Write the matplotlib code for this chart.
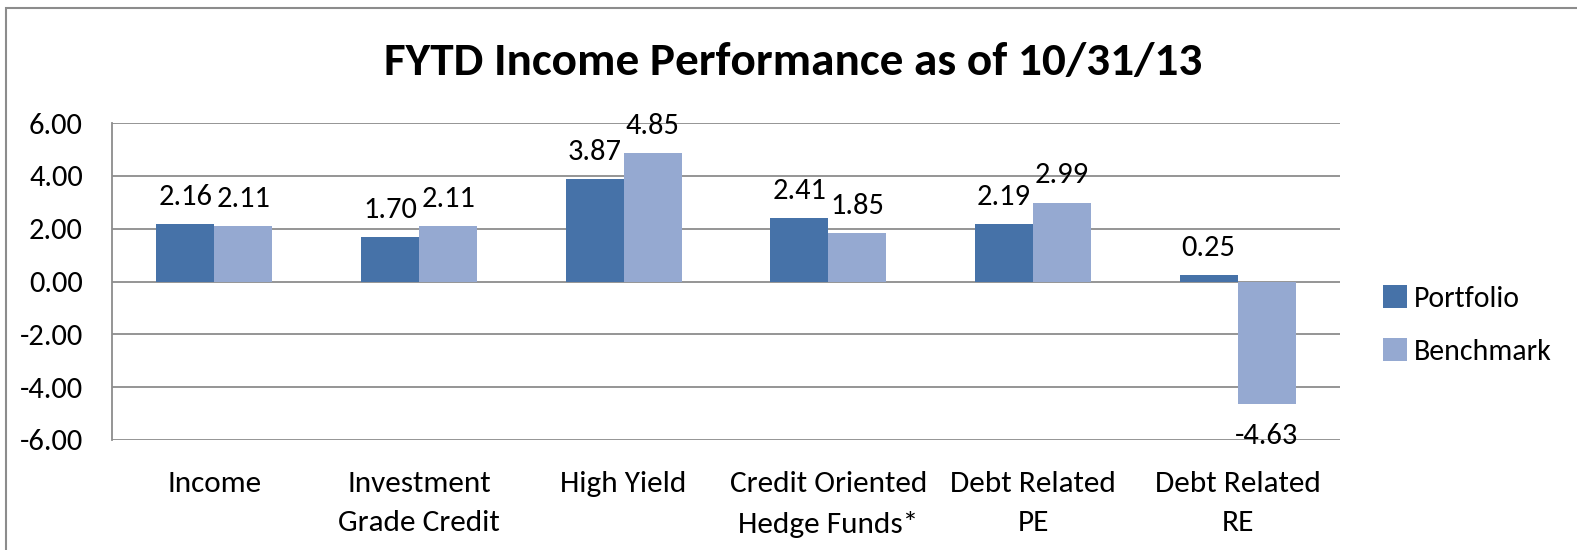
import matplotlib
matplotlib.use("Agg")
import matplotlib.pyplot as plt
import numpy as np
from matplotlib.patches import Rectangle

plt.rcParams['font.family'] = ['Carlito', 'Lato', 'DejaVu Sans']

categories = ["Income", "Investment\nGrade Credit", "High Yield",
              "Credit Oriented\nHedge Funds*", "Debt Related\nPE", "Debt Related\nRE"]
portfolio = [2.16, 1.70, 3.87, 2.41, 2.19, 0.25]
benchmark = [2.11, 2.11, 4.85, 1.85, 2.99, -4.63]
yticks = [-6, -4, -2, 0, 2, 4, 6]

c_port = "#4672A8"
c_bench = "#95A9D1"

fig = plt.figure(figsize=(15.77, 5.5), dpi=100)
ax = fig.add_axes([112/1577, 1-440/550, (1340-112)/1577, (440-123)/550])

x = np.arange(len(categories))
w = 0.284
b1 = ax.bar(x - w/2, portfolio, w, color=c_port, label="Portfolio", zorder=3)
b2 = ax.bar(x + w/2, benchmark, w, color=c_bench, label="Benchmark", zorder=3)

ax.set_xlim(-0.5, len(categories) - 0.5)
ax.set_ylim(-6, 6)
ax.set_yticks(yticks)
ax.set_yticklabels([f"{v:.2f}" for v in yticks], fontsize=22)
ax.yaxis.grid(True, color="#8c8c8c", linewidth=1.3, zorder=0)
ax.set_axisbelow(True)
for s in ["top", "right", "bottom"]:
    ax.spines[s].set_visible(False)
ax.spines["left"].set_color("#8c8c8c")
ax.spines["left"].set_linewidth(1.3)
ax.tick_params(axis="y", length=0, pad=21)
ax.tick_params(axis="x", length=0, pad=22)
ax.set_xticks(x)
ax.set_xticklabels(categories, fontsize=22.5, linespacing=1.65)

for bars, vals in ((b1, portfolio), (b2, benchmark)):
    for r, v in zip(bars, vals):
        cx = r.get_x() + r.get_width()/2
        if v >= 0:
            ax.annotate(f"{v:.2f}", (cx, v), xytext=(0, 19.5), textcoords="offset points",
                        ha="center", va="center", fontsize=22, zorder=4)
        else:
            ax.annotate(f"{v:.2f}", (cx, v), xytext=(0, -23), textcoords="offset points",
                        ha="center", va="center", fontsize=22, zorder=4)

fig.text(0.503, 0.887, "FYTD Income Performance as of 10/31/13", ha="center", va="center",
         fontsize=34, fontweight="bold")

leg = fig.legend(handles=[b1, b2], labels=["Portfolio", "Benchmark"],
                 loc="center left", bbox_to_anchor=(1383/1577, 1-325/550),
                 frameon=False, fontsize=21.5, handlelength=0.8, handleheight=0.8,
                 handletextpad=0.25, labelspacing=0.9, borderpad=0, borderaxespad=0)

# chart border (left and top visible)
fig.add_artist(Rectangle((6/1577, -0.1), 2.0, 1.1 - 8/550, transform=fig.transFigure,
                         fill=False, edgecolor="#8c8c8c", linewidth=1.5))

fig.savefig("out.png", dpi=100)
